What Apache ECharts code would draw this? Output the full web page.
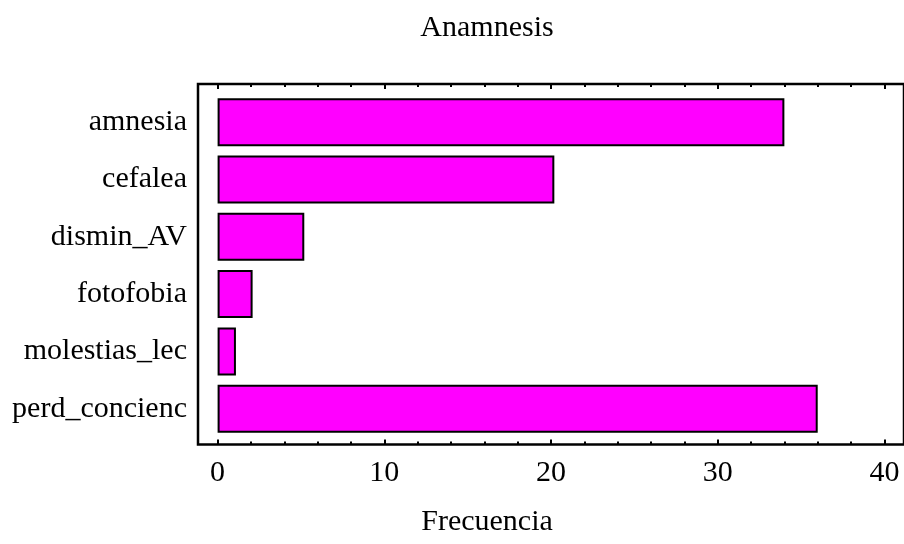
<!DOCTYPE html>
<html>
<head>
<meta charset="utf-8">
<script src="https://cdn.jsdelivr.net/npm/echarts@6/dist/echarts.min.js"></script>
<style>
  html, body { margin: 0; padding: 0; background: #fff; }
  #chart { width: 904px; height: 544px; }
</style>
</head>
<body>
<div id="chart"></div>
<script>
// datos
const categories = ["amnesia", "cefalea", "dismin_AV", "fotofobia", "molestias_lec", "perd_concienc"];
const frecuencias = [34.0, 20.2, 5.2, 2.1, 1.1, 36.0];
const majorTicks = [0, 10, 20, 30, 40];
const minorTicks = [2, 4, 6, 8, 12, 14, 16, 18, 22, 24, 26, 28, 32, 34, 36, 38];

const FONT = "Liberation Serif";
const xMin = -1.176;
const xMax = 41.176;

// marco (grid 0) y zona de barras (grid 1)
const frame = { left: 198, right: -3.4, top: 84, bottom: 99.5 };
const inner = { left: 198, right: -3.4, top: 93.5, bottom: 106.6 };

function tickAxis(position, values, len, labels) {
  return {
    type: "value",
    gridIndex: 0,
    position: position,
    min: xMin,
    max: xMax,
    axisLine: { show: false },
    splitLine: { show: false },
    axisTick: {
      show: true,
      inside: true,
      length: len,
      customValues: values,
      lineStyle: { color: "#000", width: 2 },
    },
    axisLabel: labels
      ? { show: true, customValues: values, color: "#000", fontFamily: FONT, fontSize: 30, margin: 14 }
      : { show: false },
  };
}

const textStyle = { fontFamily: FONT, fontSize: 30, fontWeight: "normal", color: "#000" };

const options = {
  animation: false,
  title: [
    { text: "Anamnesis", left: 482, top: 8, textAlign: "center", textStyle: textStyle },
    { text: "Frecuencia", left: 482, top: 502, textAlign: "center", textStyle: textStyle },
  ],
  grid: [
    Object.assign({ show: true, borderColor: "#000", borderWidth: 2.5, backgroundColor: "#fff" }, frame),
    Object.assign({ show: false }, inner),
  ],
  xAxis: [
    tickAxis("bottom", majorTicks, 5, true),
    tickAxis("bottom", minorTicks, 3, false),
    tickAxis("top", majorTicks, 5, false),
    tickAxis("top", minorTicks, 3, false),
    { type: "value", gridIndex: 1, min: xMin, max: xMax, show: false },
  ],
  yAxis: [
    { type: "value", gridIndex: 0, show: false },
    {
      type: "category",
      gridIndex: 1,
      inverse: true,
      data: categories,
      axisLine: { show: false },
      axisTick: { show: false },
      axisLabel: { color: "#000", fontFamily: FONT, fontSize: 30, margin: 11 },
    },
  ],
  series: [
    {
      type: "bar",
      xAxisIndex: 4,
      yAxisIndex: 1,
      data: frecuencias,
      barWidth: 48,
      itemStyle: { color: "#ff00ff", borderColor: "#000", borderWidth: 2 },
    },
  ],
};

const chart = echarts.init(document.getElementById("chart"));
chart.setOption(options);
</script>
</body>
</html>
